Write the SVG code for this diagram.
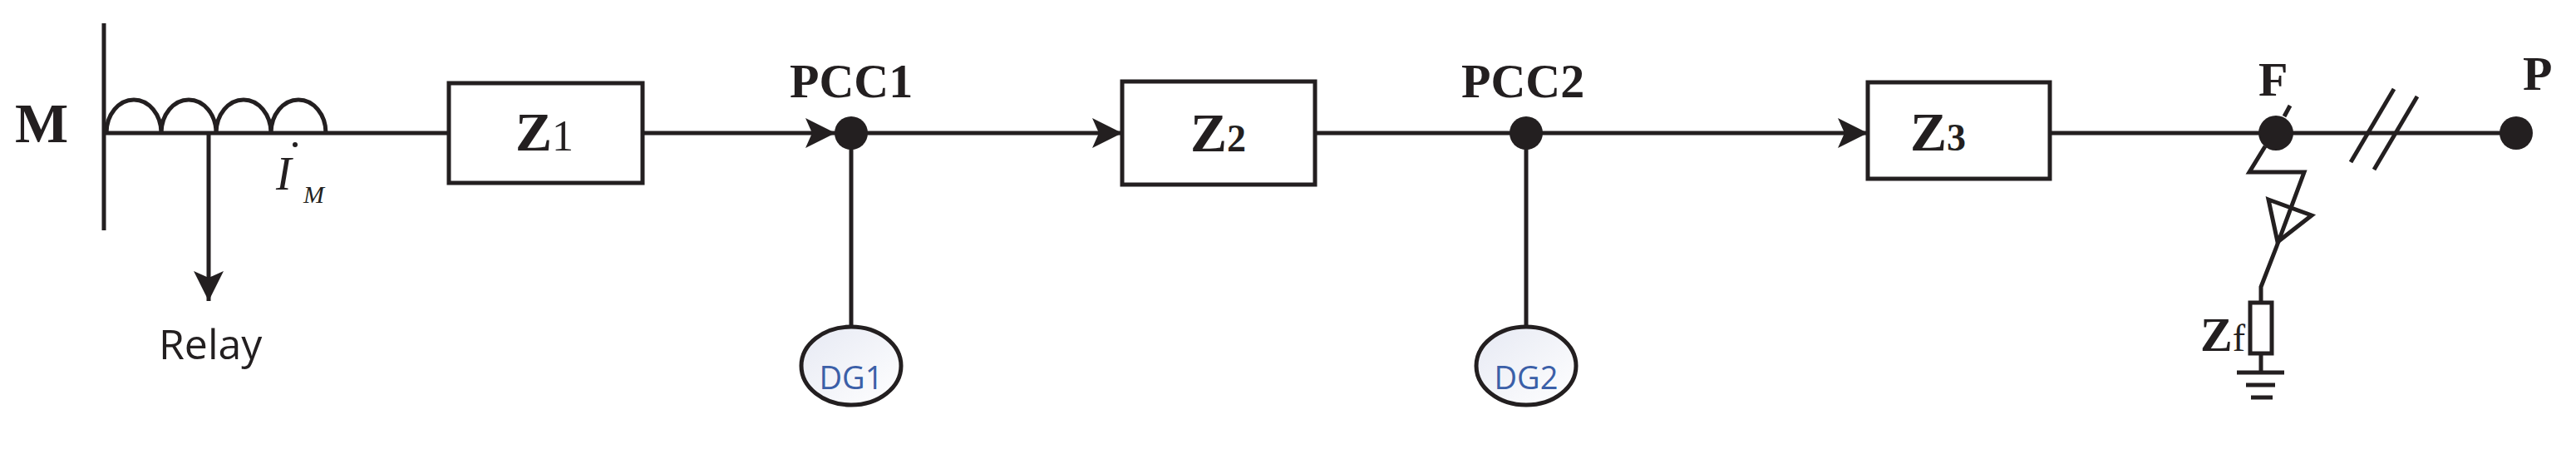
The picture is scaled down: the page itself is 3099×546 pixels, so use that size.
<svg xmlns="http://www.w3.org/2000/svg" width="3099" height="546" viewBox="0 0 3099 546">
<style>
.w{stroke:#231f20;stroke-width:5;fill:none}
.lbl{font-family:"Liberation Serif",serif;font-weight:bold;fill:#231f20}
.dot{fill:#231f20}
.dg{fill:url(#g);stroke:#231f20;stroke-width:5}
.dgt{font-family:"Open Sans","Liberation Sans",sans-serif;font-size:38px;fill:#3b5fa8;text-anchor:middle}
</style>
<defs>
<linearGradient id="g" x1="0" y1="0" x2="1" y2="1"><stop offset="0" stop-color="#e6e9f3"/><stop offset="1" stop-color="#ffffff"/></linearGradient>
<marker id="ah" viewBox="0 0 36 36" refX="36" refY="18" markerWidth="36" markerHeight="36" markerUnits="userSpaceOnUse" orient="auto"><path d="M0,0 L36,18 L0,36 L8,18 Z" fill="#231f20"/></marker>
</defs>
<rect width="3099" height="546" fill="#fff"/>
<g id="connectors">
<line class="w" x1="125" y1="160" x2="540" y2="160"/>
<line class="w" x1="773" y1="160" x2="1005" y2="160" marker-end="url(#ah)"/>
<line class="w" x1="1024" y1="160" x2="1350" y2="160" marker-end="url(#ah)"/>
<line class="w" x1="1582" y1="160" x2="2247" y2="160" marker-end="url(#ah)"/>
<line class="w" x1="2466" y1="160" x2="3027" y2="160"/>
<line class="w" x1="251" y1="160" x2="251" y2="362" marker-end="url(#ah)"/>
<line class="w" x1="1024" y1="160" x2="1024" y2="394"/>
<line class="w" x1="1836" y1="160" x2="1836" y2="394"/>
<line class="w" x1="2828" y1="195" x2="2880" y2="107"/>
<line class="w" x1="2856" y1="204" x2="2908" y2="116"/>
</g>
<g id="M">
<line class="w" x1="125" y1="28" x2="125" y2="277"/>
<path class="w" d="M128,160 A33,40 0 0 1 194,160 A33,40 0 0 1 260,160 A33,40 0 0 1 326,160 A33,40 0 0 1 392,160"/>
<text class="lbl" x="18" y="171" font-size="68">M</text>
<text x="332" y="228" font-family="Liberation Serif,serif" font-style="italic" font-size="56" fill="#231f20">I</text>
<circle cx="355" cy="174" r="3" class="dot"/>
<text x="365" y="244" font-family="Liberation Serif,serif" font-style="italic" font-size="30" fill="#231f20">M</text>
<text x="191" y="432" font-family="Open Sans,Liberation Sans,sans-serif" font-size="50" fill="#231f20">Relay</text>
</g>
<g id="Z1"><rect class="w" x="540" y="100" width="233" height="120"/><text class="lbl" x="620" y="181" font-size="66">Z<tspan font-weight="normal" font-size="52">1</tspan></text></g>
<g id="Z2"><rect class="w" x="1350" y="98" width="232" height="124"/><text class="lbl" x="1432" y="182" font-size="66">Z<tspan font-size="46">2</tspan></text></g>
<g id="Z3"><rect class="w" x="2247" y="99" width="219" height="116"/><text class="lbl" x="2298" y="181" font-size="66">Z<tspan font-size="46">3</tspan></text></g>
<g id="PCC1"><circle class="dot" cx="1024" cy="160" r="20"/><text class="lbl" x="950" y="117" font-size="58">PCC1</text></g>
<g id="PCC2"><circle class="dot" cx="1836" cy="160" r="20"/><text class="lbl" x="1758" y="117" font-size="58">PCC2</text></g>
<g id="DG1"><ellipse class="dg" cx="1024" cy="440" rx="60" ry="47"/><text class="dgt" x="1024" y="468">DG1</text></g>
<g id="DG2"><ellipse class="dg" cx="1836" cy="440" rx="60" ry="47"/><text class="dgt" x="1836" y="468">DG2</text></g>
<g id="F">
<circle class="dot" cx="2738" cy="160" r="21"/>
<line class="w" x1="2748" y1="140" x2="2755" y2="127"/>
<text class="lbl" x="2717" y="115" font-size="58">F</text>
<path class="w" d="M2725,176 L2706,207 L2772,207 L2739,296 L2720,345 L2720,364"/>
<path class="w" d="M2729,240 L2781,259 L2740,291 Z"/>
<rect class="w" x="2707" y="364" width="26" height="61"/>
<line class="w" x1="2720" y1="425" x2="2720" y2="448"/>
<line class="w" x1="2691" y1="448" x2="2748" y2="448"/>
<line class="w" x1="2702" y1="463" x2="2737" y2="463"/>
<line class="w" x1="2708" y1="478" x2="2734" y2="478"/>
<text class="lbl" x="2647" y="422" font-size="58">Z<tspan font-weight="normal" font-size="46">f</tspan></text>
</g>
<g id="P"><circle class="dot" cx="3027" cy="160" r="20"/><text class="lbl" x="3035" y="108" font-size="58">P</text></g>
</svg>
